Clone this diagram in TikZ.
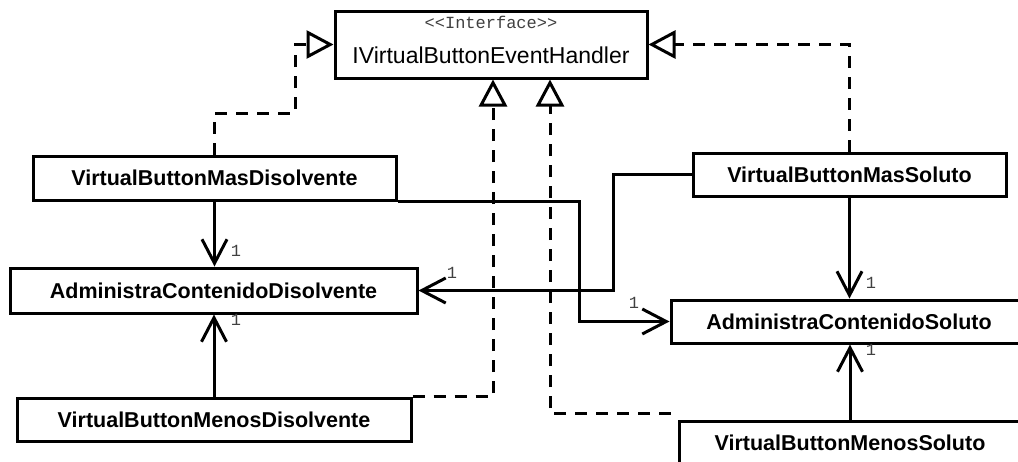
\documentclass[tikz,border=0pt]{standalone}
\usepackage{fontspec}
\setmainfont{Liberation Sans}
\setmonofont{Liberation Mono}
\usetikzlibrary{arrows.meta}
\begin{document}
\begin{tikzpicture}[x=1pt,y=-1pt,
  cls/.style={draw, line width=3pt, fill=white, inner sep=0pt,
    font=\fontsize{21.5}{24}\selectfont\bfseries},
  assoc/.style={line width=3pt, -{Straight Barb[length=24pt,width=25pt]}},
  realz/.style={line width=3pt, dash pattern=on 12pt off 9pt,
    -{Triangle[open,length=27pt,width=28pt]}},
  mult/.style={font=\fontsize{17}{17}\selectfont\ttfamily, text=black!75, inner sep=0pt}]
\useasboundingbox (0,0) rectangle (1018,461);
\clip (0,0) rectangle (1018,461);

% interface
\node[draw, line width=3pt, fill=white, minimum width=312pt, minimum height=67pt] (iface) at (491,44.5) {};
\node[font=\fontsize{17}{17}\selectfont\ttfamily, text=black!75, inner sep=0pt, anchor=base] (stereo) at (491,28) {\textless\textless Interface\textgreater\textgreater};
\node[font=\fontsize{23}{26}\selectfont, inner sep=0pt, anchor=base] (iname) at (491,63) {IVirtualButtonEventHandler};

% classes
\node[cls, minimum width=363pt, minimum height=44pt] (mDis) at (214.5,178) {VirtualButtonMasDisolvente};
\node[cls, minimum width=313pt, minimum height=43pt] (mSol) at (849.5,174.5) {VirtualButtonMasSoluto};
\node[cls, minimum width=407pt, minimum height=45pt] (aDis) at (213.5,290.5) {AdministraContenidoDisolvente};
\node[cls, minimum width=356pt, minimum height=43pt] (aSol) at (849,321.5) {AdministraContenidoSoluto};
\node[cls, minimum width=394pt, minimum height=43pt] (menDis) at (214,419.5) {VirtualButtonMenosDisolvente};
\node[cls, minimum width=342pt, minimum height=43pt] (menSol) at (850,442.5) {VirtualButtonMenosSoluto};

% realizations
\coordinate (c1) at (295,113);
\draw[realz] (mDis.north) |- (c1) |- (iface.west);
\draw[realz] (menDis.north east) -| ([xshift=2pt]iface.south);
\draw[realz] ([shift={(-7,-6)}]menSol.north west) -| ([xshift=59pt]iface.south);
\draw[realz] (mSol.north) |- (iface.east);

% associations
\draw[assoc] (mDis.south) -- (mDis.south |- aDis.north);
\draw[assoc] (menDis.north) -- (menDis.north |- aDis.south);
\coordinate (c7) at (613,290.5);
\draw[assoc] (mSol.west) -| (c7) -- (aDis.east);
\coordinate (c8) at (579,321.5);
\draw[assoc] (mDis.south east) -| (c8) -- (aSol.west);
\draw[assoc] (mSol.south) -- (mSol.south |- aSol.north);
\draw[assoc] (menSol.north) -- (menSol.north |- aSol.south);

% multiplicities
\node[mult] (m5) at (236,251) {1};
\node[mult] (m6) at (236,320) {1};
\node[mult] (m7) at (452,273) {1};
\node[mult] (m8) at (634,303) {1};
\node[mult] (m9) at (871,283) {1};
\node[mult] (m10) at (871,350) {1};
\end{tikzpicture}
\end{document}
